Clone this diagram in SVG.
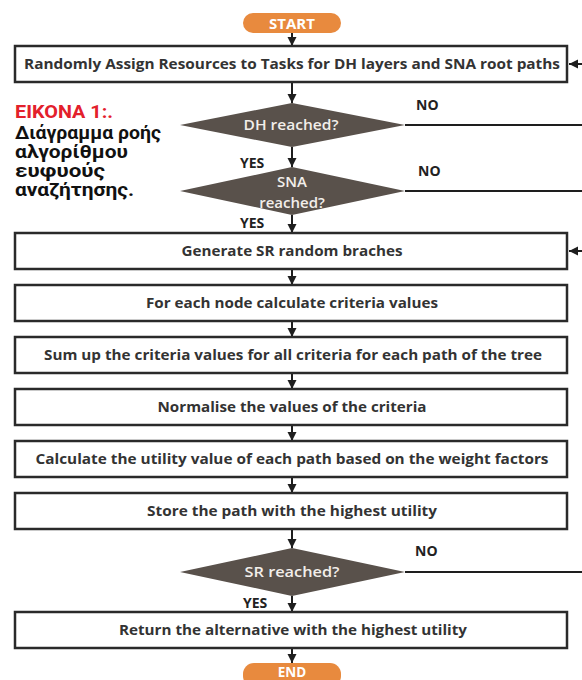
<svg xmlns="http://www.w3.org/2000/svg" width="582" height="680" viewBox="0 0 582 680">
<defs>
<marker id="ah" markerUnits="userSpaceOnUse" markerWidth="10" markerHeight="10" refX="9" refY="5" orient="auto">
<path d="M0,0.5 L9,5 L0,9.5 Z" fill="#1e1e1e"/>
</marker>
<style>
.box{fill:#fff;stroke:#2a2a2a;stroke-width:2.5}
.dia{fill:#59514b}
.pill{fill:#e88a3e}
.t{font-family:"Open Sans","Noto Sans",sans-serif;font-weight:700;font-size:15px;fill:#333;text-anchor:middle}
.dt{font-family:"Open Sans","Noto Sans",sans-serif;font-weight:600;font-size:15px;fill:#f2eeea;text-anchor:middle}
.pt{font-family:"Open Sans","Noto Sans",sans-serif;font-weight:700;font-size:15px;fill:#fff;text-anchor:middle}
.lb{font-family:"Open Sans","Noto Sans",sans-serif;font-weight:700;font-size:14px;fill:#222}
.ln{stroke:#1e1e1e;stroke-width:2;fill:none}
.cap{font-family:Roboto,"Liberation Sans",sans-serif;font-weight:700;font-size:18px}
</style>
</defs>
<rect width="582" height="680" fill="#fff"/>

<g id="caption">
<text class="cap" x="15" y="118" fill="#e3202b" textLength="98" lengthAdjust="spacingAndGlyphs">ΕΙΚΟΝΑ 1:.</text>
<text class="cap" x="15" y="139" fill="#111" textLength="146" lengthAdjust="spacingAndGlyphs">Διάγραμμα ροής</text>
<text class="cap" x="15" y="158" fill="#111" textLength="113" lengthAdjust="spacingAndGlyphs">αλγορίθμου</text>
<text class="cap" x="15" y="177" fill="#111" textLength="90" lengthAdjust="spacingAndGlyphs">ευφυούς</text>
<text class="cap" x="15" y="196" fill="#111" textLength="119" lengthAdjust="spacingAndGlyphs">αναζήτησης.</text>
</g>

<g id="connectors">
<line class="ln" x1="292" y1="33" x2="292" y2="46" marker-end="url(#ah)"/>
<line class="ln" x1="292" y1="82" x2="292" y2="103" marker-end="url(#ah)"/>
<line class="ln" x1="292" y1="147" x2="292" y2="167" marker-end="url(#ah)"/>
<line class="ln" x1="292" y1="215" x2="292" y2="233" marker-end="url(#ah)"/>
<line class="ln" x1="292" y1="269" x2="292" y2="285" marker-end="url(#ah)"/>
<line class="ln" x1="292" y1="321" x2="292" y2="337" marker-end="url(#ah)"/>
<line class="ln" x1="292" y1="373" x2="292" y2="389" marker-end="url(#ah)"/>
<line class="ln" x1="292" y1="425" x2="292" y2="441" marker-end="url(#ah)"/>
<line class="ln" x1="292" y1="477" x2="292" y2="493" marker-end="url(#ah)"/>
<line class="ln" x1="292" y1="529" x2="292" y2="548" marker-end="url(#ah)"/>
<line class="ln" x1="292" y1="596" x2="292" y2="612" marker-end="url(#ah)"/>
<line class="ln" x1="292" y1="648" x2="292" y2="663" marker-end="url(#ah)"/>
<line class="ln" x1="405" y1="125" x2="582" y2="125"/>
<line class="ln" x1="405" y1="191" x2="582" y2="191"/>
<line class="ln" x1="405" y1="572" x2="582" y2="572"/>
<line class="ln" x1="582" y1="64" x2="569" y2="64" marker-end="url(#ah)"/>
<line class="ln" x1="582" y1="251" x2="569" y2="251" marker-end="url(#ah)"/>
<text class="lb" x="416" y="110">NO</text>
<text class="lb" x="418" y="176">NO</text>
<text class="lb" x="415" y="556">NO</text>
<text class="lb" x="240" y="168">YES</text>
<text class="lb" x="240" y="228">YES</text>
<text class="lb" x="243" y="608">YES</text>
</g>

<g id="start">
<rect class="pill" x="243" y="13" width="98" height="20" rx="10"/>
<text class="pt" x="292" y="28.5">START</text>
</g>

<g id="assign">
<rect class="box" x="15" y="46" width="552" height="36"/>
<text class="t" x="292" y="69" textLength="536" lengthAdjust="spacingAndGlyphs">Randomly Assign Resources to Tasks for DH layers and SNA root paths</text>
</g>

<g id="dh">
<polygon class="dia" points="292,103 405,125 292,147 180,125"/>
<text class="dt" x="291" y="130" textLength="95" lengthAdjust="spacingAndGlyphs">DH reached?</text>
</g>

<g id="sna">
<polygon class="dia" points="292,167 405,191 292,215 180,191"/>
<text class="dt" x="292" y="187">SNA</text>
<text class="dt" x="292" y="208">reached?</text>
</g>

<g id="generate">
<rect class="box" x="15" y="233" width="552" height="36"/>
<text class="t" x="292" y="256" textLength="221" lengthAdjust="spacingAndGlyphs">Generate SR random braches</text>
</g>

<g id="foreach">
<rect class="box" x="15" y="285" width="552" height="36"/>
<text class="t" x="292" y="308" textLength="292" lengthAdjust="spacingAndGlyphs">For each node calculate criteria values</text>
</g>

<g id="sumup">
<rect class="box" x="15" y="337" width="552" height="36"/>
<text class="t" x="293" y="360" textLength="498" lengthAdjust="spacingAndGlyphs">Sum up the criteria values for all criteria for each path of the tree</text>
</g>

<g id="normalise">
<rect class="box" x="15" y="389" width="552" height="36"/>
<text class="t" x="292" y="412" textLength="269" lengthAdjust="spacingAndGlyphs">Normalise the values of the criteria</text>
</g>

<g id="calculate">
<rect class="box" x="15" y="441" width="552" height="36"/>
<text class="t" x="292" y="464" textLength="513" lengthAdjust="spacingAndGlyphs">Calculate the utility value of each path based on the weight factors</text>
</g>

<g id="store">
<rect class="box" x="15" y="493" width="552" height="36"/>
<text class="t" x="292" y="516" textLength="290" lengthAdjust="spacingAndGlyphs">Store the path with the highest utility</text>
</g>

<g id="sr">
<polygon class="dia" points="292,548 405,572 292,596 180,572"/>
<text class="dt" x="292" y="577" textLength="95" lengthAdjust="spacingAndGlyphs">SR reached?</text>
</g>

<g id="return">
<rect class="box" x="15" y="612" width="552" height="36"/>
<text class="t" x="293" y="635" textLength="348" lengthAdjust="spacingAndGlyphs">Return the alternative with the highest utility</text>
</g>

<g id="end">
<rect class="pill" x="243" y="663" width="98" height="24" rx="11"/>
<text class="pt" x="292" y="677" style="font-size:13.5px">END</text>
</g>
</svg>
